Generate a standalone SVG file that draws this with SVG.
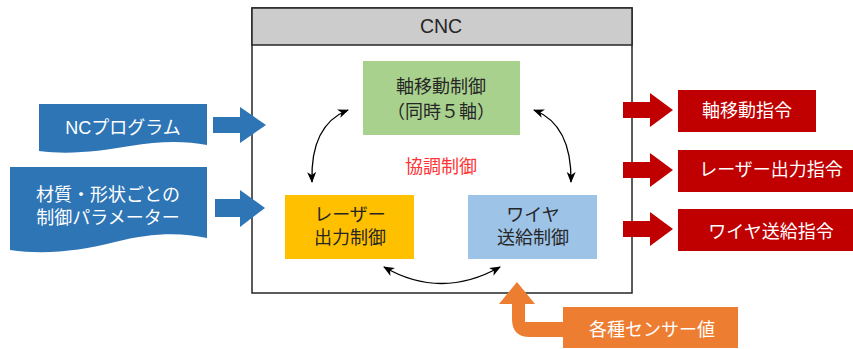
<svg xmlns="http://www.w3.org/2000/svg" width="853" height="349" viewBox="0 0 853 349">
<style>
text{font-family:"Liberation Sans","Noto Sans CJK JP",sans-serif;font-size:18px;text-anchor:middle}
.dk{fill:#262626}
.wt{fill:#ffffff}
.conn{fill:none;stroke:#000;stroke-width:1.3}
.blue{fill:#2e75b6}
.red{fill:#c00000}
.org{fill:#ed7d31}
</style>
<defs>
<marker id="ah" markerUnits="userSpaceOnUse" markerWidth="12" markerHeight="10" refX="10" refY="4.5" orient="auto-start-reverse" viewBox="0 0 12 9">
<path d="M0,0 L11,4.5 L0,9 L3,4.5 Z" fill="#000"/>
</marker>
</defs>
<rect width="853" height="349" fill="#fff"/>

<g id="cnc">
<rect x="252" y="8" width="380" height="285" fill="#fff" stroke="#262626" stroke-width="1.5"/>
<rect x="252" y="8" width="380" height="37" fill="#cccccc" stroke="#262626" stroke-width="1.5"/>
<text class="dk" x="441" y="33" style="font-size:19.5px">CNC</text>
</g>

<g id="axis">
<rect x="363" y="61" width="157" height="74" fill="#a9d18e"/>
<text class="dk" x="441" y="93">軸移動制御</text>
<text class="dk" x="441" y="118">（同時５軸）</text>
</g>

<g id="laser">
<rect x="285" y="195" width="129" height="64" fill="#ffc000"/>
<text class="dk" x="350" y="221">レーザー</text>
<text class="dk" x="350" y="244">出力制御</text>
</g>

<g id="wire">
<rect x="468" y="195" width="129" height="64" fill="#9dc3e6"/>
<text class="dk" x="533" y="221">ワイヤ</text>
<text class="dk" x="533" y="244">送給制御</text>
</g>

<g id="coop">
<text x="441" y="173" fill="#ff3333">協調制御</text>
</g>

<g id="connectors">
<path class="conn" d="M348,110 Q310,125 312,182" marker-start="url(#ah)" marker-end="url(#ah)"/>
<path class="conn" d="M534,110 Q572,125 571,182" marker-start="url(#ah)" marker-end="url(#ah)"/>
<path class="conn" d="M384,267 Q441,300 500,267" marker-start="url(#ah)" marker-end="url(#ah)"/>
</g>

<g id="nc-program">
<path class="blue" d="M39,104 H207 V145 C185,141 160,141 130,146 C100,151 70,155 39,151 Z"/>
<text class="wt" x="123" y="134">NCプログラム</text>
</g>

<g id="params">
<path class="blue" d="M10,167 H207 V238 C180,232 150,233 115,242 C80,251 45,255 10,250 Z"/>
<text class="wt" x="108" y="201">材質・形状ごとの</text>
<text class="wt" x="108" y="224">制御パラメーター</text>
</g>

<g id="in-arrows">
<path class="blue" d="M213,117 H240 V107 L266,125 L240,143 V133 H213 Z"/>
<path class="blue" d="M215,199 H240 V190 L265,208 L240,227 V217 H215 Z"/>
</g>

<g id="out-arrows">
<path class="red" d="M623,102 H650 V93 L673,110 L650,127 V118 H623 Z"/>
<path class="red" d="M623,162 H650 V153 L673,170 L650,187 V178 H623 Z"/>
<path class="red" d="M623,221 H650 V212 L673,229 L650,246 V237 H623 Z"/>
</g>

<g id="cmd-axis">
<rect class="red" x="678" y="90" width="138" height="42"/>
<text class="wt" x="747" y="117">軸移動指令</text>
</g>
<g id="cmd-laser">
<rect class="red" x="678" y="150" width="180" height="42"/>
<text class="wt" x="771" y="176">レーザー出力指令</text>
</g>
<g id="cmd-wire">
<rect class="red" x="678" y="209" width="180" height="42"/>
<text class="wt" x="771" y="238">ワイヤ送給指令</text>
</g>

<g id="sensor">
<path class="org" d="M499,304 L517,282 L535,304 H525 V322 H563 V337 H530 Q512,337 512,319 V304 Z"/>
<rect class="org" x="563" y="307" width="175" height="41"/>
<text class="wt" x="652" y="336">各種センサー値</text>
</g>
</svg>
